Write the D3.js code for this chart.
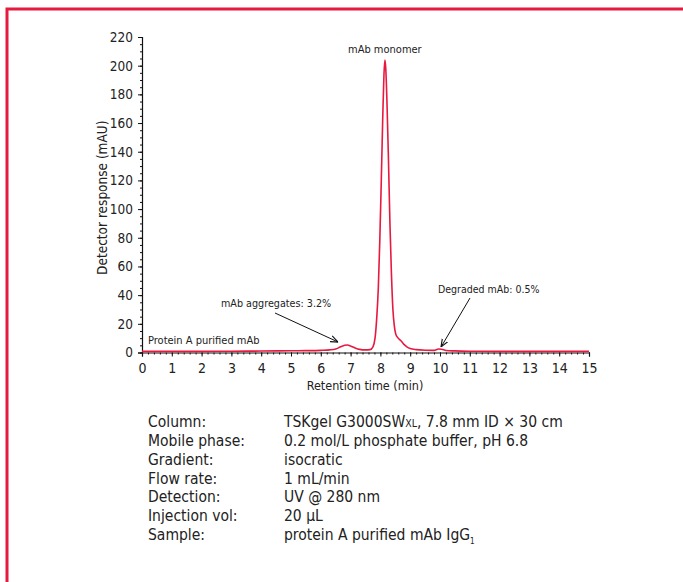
<!DOCTYPE html>
<html><head><meta charset="utf-8">
<script src="https://cdn.jsdelivr.net/npm/d3@7"></script>
<style>
body{margin:0;background:#fff;}
svg{display:block;}
text{font-family:"Liberation Sans Narrow","DejaVu Sans Condensed","Arial Narrow",sans-serif;fill:#222;}
</style></head><body>
<svg id="c" width="683" height="582"></svg>
<script>
// ---- data ----
const times = [0,1,2,3,4,5,5.5,6,6.3,6.5,6.65,6.8,6.9,7.0,7.15,7.3,7.5,7.65,7.75,7.82,7.88,7.93,7.98,8.03,8.08,8.12,8.15,8.18,8.22,8.27,8.32,8.37,8.42,8.47,8.52,8.6,8.7,8.8,8.9,9.0,9.2,9.5,9.8,9.95,10.05,10.2,10.5,11,12,13,14,15];
const response = [0.8,0.8,0.8,0.9,1.0,1.2,1.3,1.5,1.8,2.4,3.8,5.0,5.2,4.6,3.2,2.2,1.8,2.0,4,10,25,45,78,120,165,194,204,198,175,135,90,55,30,18,12.5,10,8,5.5,3.8,2.8,2.0,1.6,1.5,2.4,2.3,1.4,1.1,0.9,0.8,0.8,0.8,0.8];
const xTicks = [0,1,2,3,4,5,6,7,8,9,10,11,12,13,14,15];
const yTicks = [0,20,40,60,80,100,120,140,160,180,200,220];
const annotations = [
  {text:"mAb monomer", t:8.15, v:204},
  {text:"mAb  aggregates: 3.2%", t:6.85, v:5.2},
  {text:"Degraded mAb: 0.5%", t:10.0, v:2.4},
  {text:"Protein A purified mAb", t:0.2, v:6}
];
const condLabels = ["Column:","Mobile phase:","Gradient:","Flow rate:","Detection:","Injection vol:","Sample:"];
const condValues = ["TSKgel G3000SW|XL|, 7.8 mm ID \u00d7 30 cm","0.2 mol/L phosphate buffer, pH 6.8","isocratic","1 mL/min","UV @ 280 nm","20 \u00b5L","protein A purified mAb IgG_1"];

const svg = d3.select("#c");
const red = "#e8193f";

// frame
svg.append("rect").attr("x",7).attr("y",9).attr("width",700).attr("height",600)
  .attr("fill","none").attr("stroke",red).attr("stroke-width",3);

const x = d3.scaleLinear().domain([0,15]).range([142,589]);
const y = d3.scaleLinear().domain([0,220]).range([352.5,37]);

// x axis
const gx = svg.append("g").attr("transform",`translate(0,${y(0)})`);
gx.call(d3.axisBottom(x).tickValues(d3.range(0,15.01,0.2)).tickSize(2).tickFormat(""));
gx.call(g=>g.select(".domain").remove());
const gx2 = svg.append("g").attr("transform",`translate(0,${y(0)})`)
  .call(d3.axisBottom(x).tickValues(xTicks).tickSize(4).tickPadding(7).tickFormat(d3.format("d")));
gx2.selectAll("text").attr("font-size",14).attr("fill","#111");

// y axis
const gy = svg.append("g").attr("transform",`translate(${x(0)},0)`);
gy.call(d3.axisLeft(y).tickValues(d3.range(0,220.1,5)).tickSize(2).tickFormat(""));
gy.call(g=>g.select(".domain").remove());
const gy2 = svg.append("g").attr("transform",`translate(${x(0)},0)`)
  .call(d3.axisLeft(y).tickValues(yTicks).tickSize(4).tickPadding(5).tickFormat(d3.format("d")));
gy2.selectAll("text").attr("font-size",13.5).attr("fill","#111");
gx2.select(".domain").attr("stroke","#111").attr("stroke-width",1.2);
gy2.select(".domain").attr("stroke","#111").attr("stroke-width",1.2);
svg.selectAll(".tick line").attr("stroke","#111");

// axis titles
svg.append("text").attr("transform",`translate(107,${(y(0)+y(220))/2+3}) rotate(-90)`)
  .attr("text-anchor","middle").attr("font-size",13.5).text("Detector response (mAU)");
svg.append("text").attr("x",365).attr("y",390).attr("text-anchor","middle")
  .attr("font-size",12.5).text("Retention time (min)");

// curve
const pts = times.map((t,i)=>[t,response[i]]);
svg.append("path").datum(pts)
  .attr("fill","none").attr("stroke",red).attr("stroke-width",1.6)
  .attr("d", d3.line().x(d=>x(d[0])).y(d=>y(d[1])).curve(d3.curveMonotoneX));

// arrow marker
svg.append("defs").append("marker").attr("id","ah").attr("viewBox","0 0 10 10")
  .attr("refX",10).attr("refY",5).attr("markerWidth",8).attr("markerHeight",8)
  .attr("orient","auto").attr("markerUnits","userSpaceOnUse")
  .append("path").attr("d","M0,1 L10,5 L0,9").attr("fill","none").attr("stroke","#111").attr("stroke-width",1.4);

// annotations
const a0 = annotations[0];
svg.append("text").attr("x",x(a0.t)).attr("y",y(a0.v)-7).attr("text-anchor","middle")
  .attr("font-size",11).text(a0.text);
const a1 = annotations[1];
svg.append("text").attr("x",221).attr("y",307).attr("font-size",10.7).text(a1.text);
svg.append("line").attr("x1",275).attr("y1",313).attr("x2",x(a1.t)-8).attr("y2",y(a1.v)-3)
  .attr("stroke","#111").attr("stroke-width",1).attr("marker-end","url(#ah)");
const a2 = annotations[2];
svg.append("text").attr("x",438).attr("y",293).attr("font-size",10.5).text(a2.text);
svg.append("line").attr("x1",470).attr("y1",298).attr("x2",x(a2.t)+1).attr("y2",y(a2.v)-2)
  .attr("stroke","#111").attr("stroke-width",1).attr("marker-end","url(#ah)");
const a3 = annotations[3];
svg.append("text").attr("x",148).attr("y",344).attr("font-size",11).text(a3.text);

// conditions table
const rowY = d3.scaleLinear().domain([0,6]).range([427,540]);
condLabels.forEach((l,i)=>{
  svg.append("text").attr("x",148).attr("y",rowY(i)).attr("font-size",15.5).text(l);
  const v = condValues[i];
  const t = svg.append("text").attr("x",284).attr("y",rowY(i)).attr("font-size",15.5);
  if (v.includes("|")) {
    const parts = v.split("|");
    t.append("tspan").text(parts[0]);
    t.append("tspan").attr("font-size",10.5).text(parts[1]);
    t.append("tspan").text(parts[2]);
  } else if (v.includes("_")) {
    const parts = v.split("_");
    t.append("tspan").text(parts[0]);
    t.append("tspan").attr("font-size",8).attr("dy",4).text(parts[1]);
  } else t.text(v);
});
</script></body></html>
